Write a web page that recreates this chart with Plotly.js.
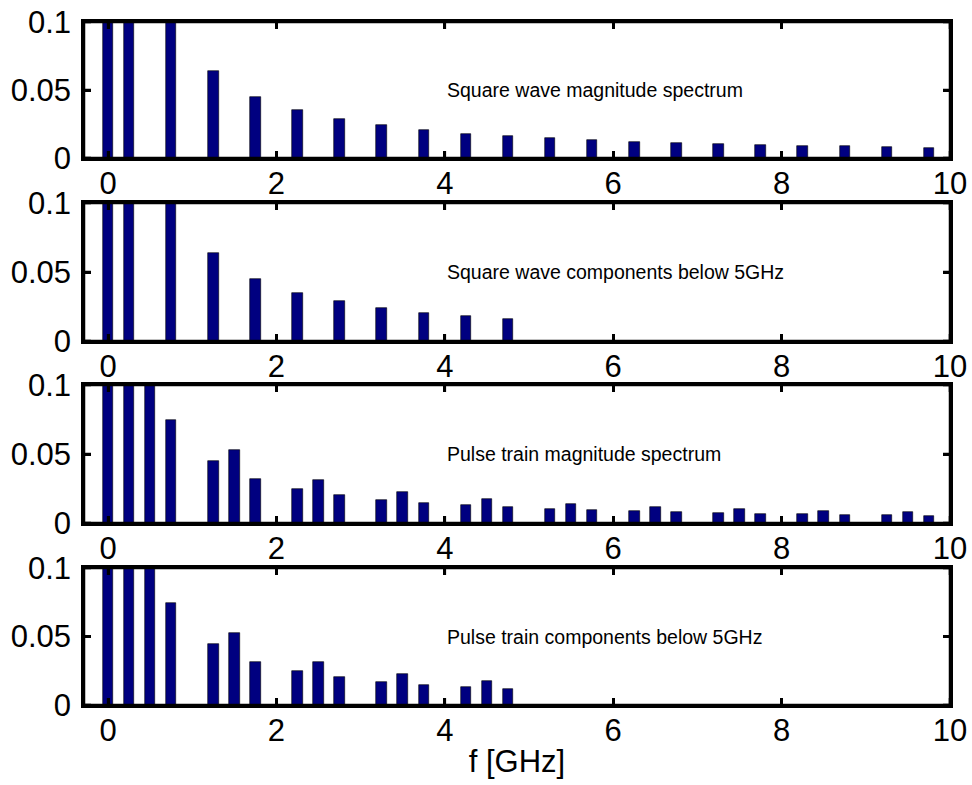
<!DOCTYPE html>
<html>
<head>
<meta charset="utf-8">
<script src="https://cdn.plot.ly/plotly-3.0.1.min.js"></script>
<style>html,body{margin:0;padding:0;background:#fff;}#chart{width:972px;height:785px;}</style>
</head>
<body>
<div id="chart"></div>
<script>
// Square wave spectrum (GHz, magnitude)
var squareFreq = [0, 0.25, 0.75, 1.25, 1.75, 2.25, 2.75, 3.25, 3.75, 4.25, 4.75, 5.25, 5.75, 6.25, 6.75, 7.25, 7.75, 8.25, 8.75, 9.25, 9.75];
var squareMag  = [0.5, 0.318, 0.106, 0.064, 0.045, 0.035, 0.029, 0.024, 0.0206, 0.018, 0.0162, 0.0145, 0.013, 0.012, 0.0113, 0.0103, 0.0096, 0.009, 0.0086, 0.0081, 0.0076];
// Square wave components below 5 GHz
var squareLowFreq = [0, 0.25, 0.75, 1.25, 1.75, 2.25, 2.75, 3.25, 3.75, 4.25, 4.75];
var squareLowMag  = [0.5, 0.318, 0.106, 0.064, 0.045, 0.035, 0.029, 0.024, 0.0206, 0.018, 0.0162];
// Pulse train spectrum
var pulseFreq = [0, 0.25, 0.5, 0.75, 1, 1.25, 1.5, 1.75, 2, 2.25, 2.5, 2.75, 3, 3.25, 3.5, 3.75, 4, 4.25, 4.5, 4.75, 5,
                 5.25, 5.5, 5.75, 6, 6.25, 6.5, 6.75, 7, 7.25, 7.5, 7.75, 8, 8.25, 8.5, 8.75, 9, 9.25, 9.5, 9.75];
var pulseMag  = [0.25, 0.225, 0.159, 0.0746, 0, 0.0446, 0.0528, 0.0317, 0, 0.0247, 0.0315, 0.0201, 0, 0.017, 0.0223, 0.0145, 0, 0.0129, 0.0172, 0.0114, 0,
                 0.0102, 0.0141, 0.0092, 0, 0.0085, 0.0119, 0.0078, 0, 0.0073, 0.0099, 0.0068, 0, 0.0063, 0.0087, 0.0061, 0, 0.0056, 0.0078, 0.0053];
// Pulse train components below 5 GHz
var pulseLowFreq = [0, 0.25, 0.5, 0.75, 1, 1.25, 1.5, 1.75, 2, 2.25, 2.5, 2.75, 3, 3.25, 3.5, 3.75, 4, 4.25, 4.5, 4.75, 5];
var pulseLowMag  = [0.25, 0.225, 0.159, 0.0746, 0, 0.0446, 0.0528, 0.0317, 0, 0.0247, 0.0315, 0.0201, 0, 0.017, 0.0223, 0.0145, 0, 0.0129, 0.0172, 0.0114, 0];

var panelLabels = ['Square wave magnitude spectrum', 'Square wave components below 5GHz',
                   'Pulse train magnitude spectrum', 'Pulse train components below 5GHz'];
var xTicks = [0, 2, 4, 6, 8, 10];
var yTicks = [0, 0.05, 0.1];
var yTickText = ['0', '0.05', '0.1'];

var FONT = 'Arial, "Liberation Sans", Helvetica, sans-serif';
var barColor = '#000080';

function barTrace(x, y, n) {
  return {
    type: 'bar', x: x, y: y, width: 0.125,
    xaxis: 'x' + (n === 1 ? '' : n), yaxis: 'y' + (n === 1 ? '' : n),
    marker: {color: barColor, line: {color: '#000000', width: 0.6}},
    hoverinfo: 'x+y', showlegend: false
  };
}

var data = [
  barTrace(squareFreq, squareMag, 1),
  barTrace(squareLowFreq, squareLowMag, 2),
  barTrace(pulseFreq, pulseMag, 3),
  barTrace(pulseLowFreq, pulseLowMag, 4)
];

var H = 785, T = 22, B = 80;
var plotH = H - T - B;
function dom(topPx, botPx) {
  return [(H - B - botPx) / plotH, (H - B - topPx) / plotH];
}
var domains = [dom(22, 158), dom(203, 341), dom(385, 523), dom(568, 705)];

var layout = {
  width: 972, height: 785,
  margin: {l: 84, r: 22, t: T, b: B, pad: 0},
  paper_bgcolor: '#ffffff', plot_bgcolor: '#ffffff',
  font: {family: FONT, color: '#000000', size: 31},
  bargap: 0,
  annotations: [],
  shapes: [],
  showlegend: false
};

var AX = {color: '#000000', width: 2.5};
var TL = 7;

for (var i = 0; i < 4; i++) {
  var n = i + 1;
  var sfx = (n === 1 ? '' : String(n));
  var xk = 'xaxis' + sfx, yk = 'yaxis' + sfx;
  var xa = 'x' + sfx, ya = 'y' + sfx;
  layout[xk] = {
    domain: [0, 1], anchor: ya, range: [-0.286, 10],
    tickmode: 'array', tickvals: xTicks, ticks: 'inside', ticklen: TL, tickwidth: 2.5, tickcolor: '#000000',
    showline: true, linewidth: 2.5, linecolor: '#000000', mirror: 'ticks',
    showgrid: false, zeroline: false,
    tickfont: {family: FONT, size: 31, color: '#000'},
    ticklabelstandoff: -4
  };
  layout[yk] = {
    domain: domains[i], anchor: xa, range: [0, 0.1],
    tickmode: 'array', tickvals: yTicks, ticktext: yTickText, ticks: 'inside', ticklen: TL, tickwidth: 2.5, tickcolor: '#000000',
    showline: true, linewidth: 2.5, linecolor: '#000000', mirror: 'ticks',
    showgrid: false, zeroline: false,
    tickfont: {family: FONT, size: 31, color: '#000'},
    ticklabelstandoff: 4
  };
  layout.annotations.push({
    x: 4, y: 0.05, xref: xa, yref: ya, text: panelLabels[i],
    showarrow: false, xanchor: 'left', yanchor: 'middle',
    font: {family: FONT, size: 19.5, color: '#000'}
  });
  // Frame box (drawn as a shape so its weight matches the reference)
  layout.shapes.push({type: 'rect', xref: xa + ' domain', yref: ya + ' domain', x0: 0, x1: 1, y0: 0, y1: 1,
                      line: AX, fillcolor: 'rgba(0,0,0,0)', layer: 'above'});
  // Inward x ticks, bottom and top
  xTicks.forEach(function (t) {
    layout.shapes.push({type: 'line', xref: xa, yref: ya + ' domain', ysizemode: 'pixel', yanchor: 0,
                        x0: t, x1: t, y0: 0, y1: TL, line: AX, layer: 'above'});
    layout.shapes.push({type: 'line', xref: xa, yref: ya + ' domain', ysizemode: 'pixel', yanchor: 1,
                        x0: t, x1: t, y0: 0, y1: -TL, line: AX, layer: 'above'});
  });
  // Inward y ticks, left and right
  yTicks.forEach(function (t) {
    layout.shapes.push({type: 'line', xref: xa + ' domain', yref: ya, xsizemode: 'pixel', xanchor: 0,
                        x0: 0, x1: TL, y0: t, y1: t, line: AX, layer: 'above'});
    layout.shapes.push({type: 'line', xref: xa + ' domain', yref: ya, xsizemode: 'pixel', xanchor: 1,
                        x0: 0, x1: -TL, y0: t, y1: t, line: AX, layer: 'above'});
  });
}
layout.xaxis4.title = {text: 'f [GHz]', font: {family: FONT, size: 31, color: '#000'}, standoff: 4};

Plotly.newPlot('chart', data, layout, {displayModeBar: false});
</script>
</body>
</html>
